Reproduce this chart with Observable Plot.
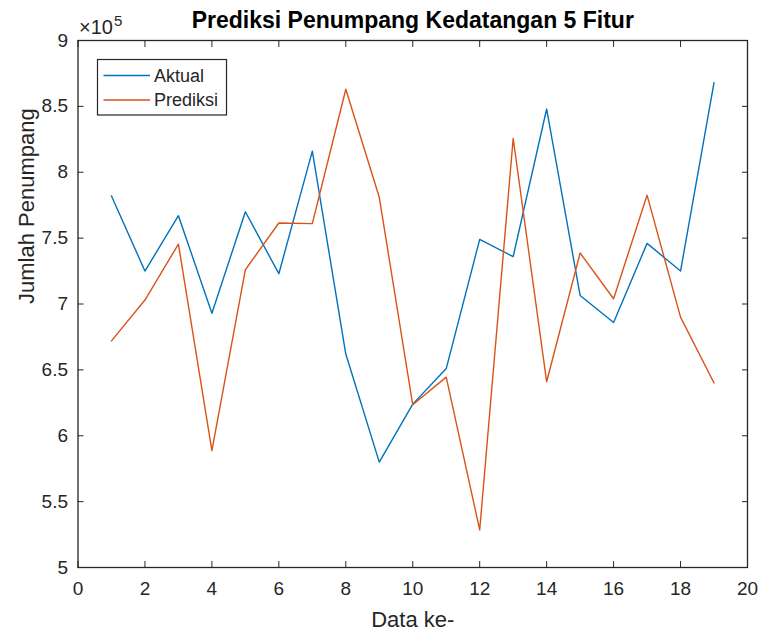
<!DOCTYPE html>
<html>
<head>
<meta charset="utf-8">
<script src="https://cdn.jsdelivr.net/npm/d3@7"></script>
<script src="https://cdn.jsdelivr.net/npm/@observablehq/plot@0.6"></script>
<style>
  html, body { margin: 0; padding: 0; background: #fff; }
  #chart { width: 763px; height: 631px; }
</style>
</head>
<body>
<div id="chart"></div>
<script>
// ---- data ----
const dataIndex = [1,2,3,4,5,6,7,8,9,10,11,12,13,14,15,16,17,18,19];
const aktual = [782000, 725000, 767000, 693000, 770000, 723000, 816000, 662000, 580000, 624000,
                651000, 749000, 736000, 848000, 706500, 686000, 746000, 725000, 868000];
const prediksi = [672000, 703000, 745500, 588700, 726000, 761500, 761000, 863000, 781000, 623500,
                  644500, 528500, 825600, 641000, 738700, 704000, 782600, 690000, 640000];
const xTicks = [0,2,4,6,8,10,12,14,16,18,20];
const yTicks = [500000,550000,600000,650000,700000,750000,800000,850000,900000];
const seriesNames = ["Aktual", "Prediksi"];
const seriesColors = ["#0072BD", "#D95319"];
const titleText = "Prediksi Penumpang Kedatangan 5 Fitur";
const xLabel = "Data ke-";
const yLabel = "Jumlah Penumpang";

const rows = [];
dataIndex.forEach((k, i) => {
  rows.push({idx: k, value: aktual[i], series: seriesNames[0]});
  rows.push({idx: k, value: prediksi[i], series: seriesNames[1]});
});

const ink = "#262626";
const fmtY = v => d3.format("")(+(v / 1e5).toFixed(1));

const plot = Plot.plot({
  width: 763,
  height: 631,
  marginLeft: 77.5,
  marginRight: 16,
  marginTop: 40,
  marginBottom: 64,
  style: {fontFamily: "'Liberation Sans', Arial, sans-serif", fontSize: "19px", color: ink, background: "#fff"},
  x: {domain: [0, 20]},
  y: {domain: [500000, 900000]},
  color: {domain: seriesNames, range: seriesColors},
  marks: [
    Plot.line(rows, {x: "idx", y: "value", z: "series", stroke: "series", strokeWidth: 1.4}),
    Plot.frame({stroke: ink, strokeWidth: 1.3}),
    Plot.axisX(xTicks, {anchor: "bottom", tickSize: -6, tickPadding: 20, label: null, stroke: ink, fill: ink}),
    Plot.axisX(xTicks, {anchor: "top", tickSize: -6, tickFormat: () => "", label: null, stroke: ink}),
    Plot.axisY(yTicks, {anchor: "left", tickSize: -6, tickPadding: 16, tickFormat: fmtY, label: null, stroke: ink, fill: ink}),
    Plot.axisY(yTicks, {anchor: "right", tickSize: -6, tickFormat: () => "", label: null, stroke: ink}),
    Plot.text([titleText], {frameAnchor: "top", dy: -13, lineAnchor: "bottom", fontWeight: "bold", fontSize: 23, fill: "#000"}),
    Plot.text([xLabel], {frameAnchor: "bottom", dy: 59, lineAnchor: "bottom", fontSize: 22, fill: ink}),
    Plot.text([yLabel], {frameAnchor: "left", dx: -44.5, rotate: -90, lineAnchor: "bottom", fontSize: 22, fill: ink}),
    Plot.text(["\u00d710"], {frameAnchor: "top-left", dx: 1, dy: -7, lineAnchor: "bottom", textAnchor: "start", fontSize: 20, fill: ink}),
    Plot.text(["5"], {frameAnchor: "top-left", dx: 36, dy: -15, lineAnchor: "bottom", textAnchor: "start", fontSize: 15, fill: ink})
  ]
});

// legend box drawn inside the plot svg
const svg = d3.select(plot);
const lg = svg.append("g").attr("font-family", "'Liberation Sans', Arial, sans-serif").attr("font-size", 18).attr("text-anchor", "start");
lg.append("rect").attr("x", 97.5).attr("y", 59.5).attr("width", 129).attr("height", 55.5)
  .attr("fill", "#fff").attr("stroke", ink).attr("stroke-width", 1.2);
seriesNames.forEach((name, i) => {
  const y = 75.5 + i * 24.5;
  lg.append("line").attr("x1", 103.5).attr("x2", 150).attr("y1", y).attr("y2", y)
    .attr("stroke", seriesColors[i]).attr("stroke-width", 1.4);
  lg.append("text").attr("x", 154).attr("y", y).attr("dy", "0.35em").attr("text-anchor", "start").attr("fill", ink).text(name);
});

document.getElementById("chart").appendChild(plot);
</script>
</body>
</html>
